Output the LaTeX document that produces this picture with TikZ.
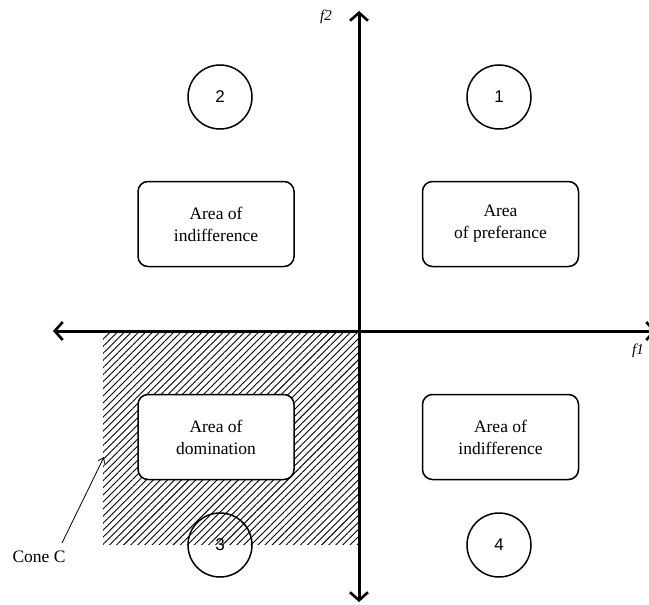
\documentclass[tikz,border=0pt]{standalone}
\usepackage{fontspec}
\setmainfont{Liberation Serif}
\newfontfamily\digitfont{Liberation Sans}
\usetikzlibrary{arrows.meta,patterns.meta}
\begin{document}
\begin{tikzpicture}[x=1pt,y=-1pt,
  axis/.style={line width=3pt,-{Straight Barb[length=8pt,width=18pt,line width=2.6pt]}},
  areabox/.style={draw,line width=1.5pt,rounded corners=10pt,fill=white,
    minimum width=156pt,minimum height=85pt,align=center,
    font=\fontsize{17.5}{22}\selectfont},
  zone/.style={draw,circle,line width=1.5pt,minimum size=64pt,inner sep=0pt,
    font=\digitfont\fontsize{17}{20}\selectfont},
  axislabel/.style={font=\itshape\fontsize{15}{18}\selectfont},
]
\useasboundingbox (0,0) rectangle (649,605);

% hatched cone of dominated points
\fill[pattern={Lines[angle=45,distance=5pt,line width=0.9pt]}]
  (103,331) rectangle (358,544);

% axes
\coordinate (o) at (359,331);
\coordinate (top) at (359,11);
\coordinate (bot) at (359,602);
\coordinate (left) at (53,331);
\coordinate (right) at (656,331);
\draw[axis] (o) -- (top);
\draw[axis] (o) -- (bot);
\draw[axis] (o) -- (left);
\draw[axis] (o) -- (right);
\node[axislabel] (f2) at (326,17) {f2};
\node[axislabel] (f1) at (638,351) {f1};

% quadrant boxes
\node[areabox] (pref) at (500.5,224) {Area\\of preferance};
\node[areabox] (ind2) at (216,224) {Area of\\indifference};
\node[areabox] (dom)  at (216,437) {Area of\\domination};
\node[areabox] (ind4) at (500.5,437) {Area of\\indifference};

% quadrant numbers
\node[zone] (q1) at (499,97) {1};
\node[zone] (q2) at (220,97) {2};
\node[zone] (q3) at (220,545) {3};
\node[zone] (q4) at (499,545) {4};

% cone label
\node[font=\fontsize{17.5}{20}\selectfont] (cone) at (39,557) {Cone C};
\coordinate (conetip) at (104,457);
\draw[line width=0.8pt,-{Straight Barb[length=5pt,width=7pt]}] (62,543) -- (conetip);
\end{tikzpicture}
\end{document}
